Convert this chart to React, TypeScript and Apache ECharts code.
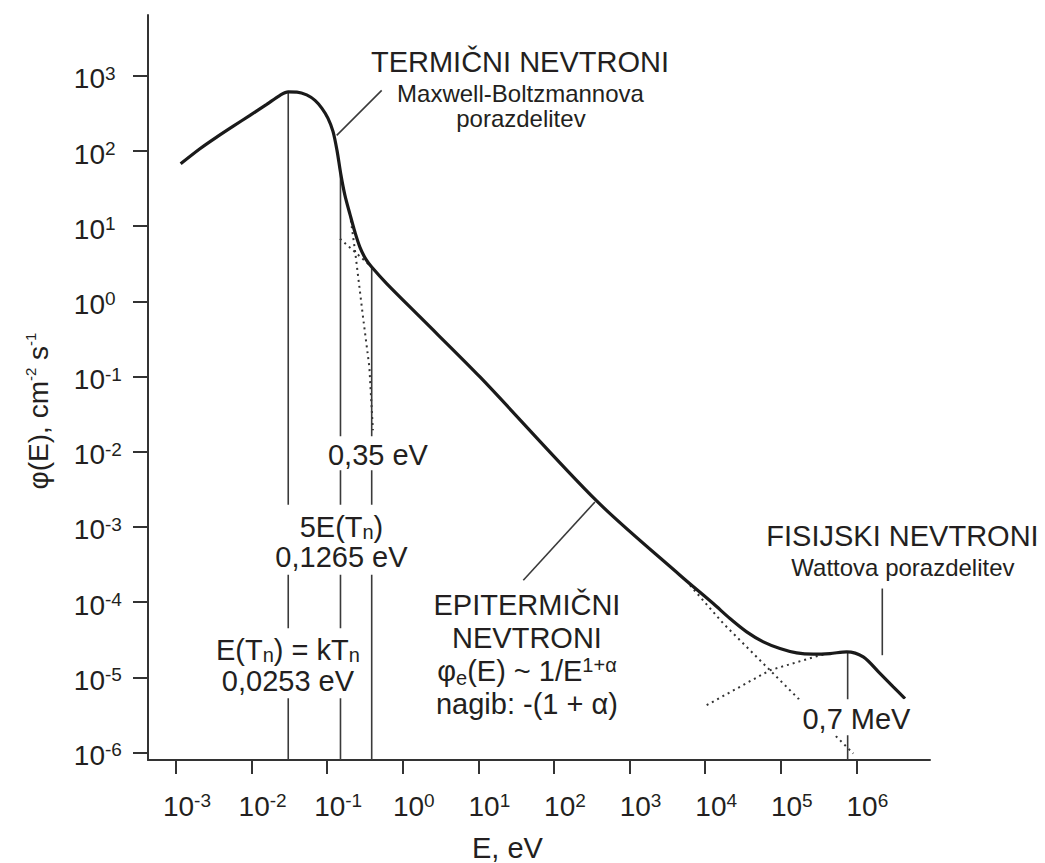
import React, { useEffect, useRef } from "react";
import * as echarts from "echarts";

const FONT = "'Liberation Sans', Arial, Helvetica, sans-serif";
const INK = "#231f20";

// ---- axes (powers of ten) ----
const xTickExponents = [-3, -2, -1, 0, 1, 2, 3, 4, 5, 6];
const yTickExponents = [-6, -5, -4, -3, -2, -1, 0, 1, 2, 3];
const xRangeExp = [-3.37, 6.974];
const yRangeExp = [-6.1, 3.81];

// ---- main neutron spectrum  φ(E) ----
const spectrumE = [0.001153, 0.002075, 0.003451, 0.005728, 0.009528, 0.01585, 0.02377, 0.03055, 0.0399, 0.05358, 0.06902, 0.08531, 0.1026, 0.1194, 0.1349, 0.1524, 0.1718, 0.2004, 0.2333, 0.2716, 0.3258, 0.3882, 0.6124, 1.69, 10.5, 367.3, 4645, 12790, 21280, 35400, 58750, 97500, 162200, 269200, 447700, 744700, 1233000, 2051000, 3076000, 4395000];
const spectrumPhi = [67.9, 107.6, 153.5, 214.8, 298.5, 417.8, 550.8, 612.4, 609.5, 558.5, 472.1, 369.8, 272.3, 182.8, 102.1, 47.5, 25.8, 14.39, 8.3, 5.24, 3.62, 2.864, 1.726, 0.6209, 0.0989, 0.002218, 0.000228, 0.0000957, 0.0000605, 0.0000402, 0.0000296, 0.00002415, 0.0000211, 0.0000203, 0.0000207, 0.0000218, 0.00001866, 0.00001125, 0.00000745, 0.00000522];

// ---- dotted component curves ----
const maxwellTailE = [0.2004, 0.2333, 0.2979, 0.3614, 0.4027];
const maxwellTailPhi = [14.39, 4.79, 0.621, 0.1343, 0.01932];
const epiUpE = [0.1476, 0.368];
const epiUpPhi = [6.84, 3.02];
const epiDownE = [6295, 17380, 71940, 179500, 909900];
const epiDownPhi = [0.0001679, 0.0000519, 0.00001242, 0.00000495, 0.00000097];
const wattRiseE = [10470, 71940, 330400, 400000];
const wattRisePhi = [0.00000426, 0.00001242, 0.00001963, 0.0000205];

// ---- vertical marker lines (energy, top of line) ----
const markerE = [0.03055, 0.15, 0.3882, 767000];
const markerTopPhi = [612.4, 52.6, 2.864, 0.0000217];

// ---- leader lines ----
const thermalLeaderE = [0.526, 0.1337];
const thermalLeaderPhi = [641, 161.8];
const epiLeaderE = [39.3, 348.3];
const epiLeaderPhi = [0.0001954, 0.002148];
const fissionLeaderE = [2203000, 2203000];
const fissionLeaderPhi = [0.0001517, 0.00001968];

// ---- annotation texts ----
const annotationTexts = [
  "{h|TERMIČNI NEVTRONI}",
  "{s|Maxwell-Boltzmannova}",
  "{s|porazdelitev}",
  "{m|0,35 eV}",
  "{m|5E(T}{sub|n}{m|)}\n{m|0,1265 eV}",
  "{m|E(T}{sub|n}{m|) = kT}{sub|n}\n{m|0,0253 eV}",
  "{m|EPITERMIČNI}\n{m|NEVTRONI}\n{m|φ}{sub|e}{m|(E) ~ 1/E}{sup|1+α}\n{m|nagib: -(1 + α)}",
  "{h|FISIJSKI NEVTRONI}",
  "{s|Wattova porazdelitev}",
  "{m|0,7 MeV}",
];
// layout of annotations: anchor (log10 E, log10 φ), line height, padding, white box
const annotationLayout = [
  { x: 1.55, y: 3.18, lh: 32, pad: [0, 0, 0, 0], bg: false },
  { x: 1.557, y: 2.761, lh: 26, pad: [0, 0, 0, 0], bg: false },
  { x: 1.563, y: 2.435, lh: 26, pad: [0, 0, 0, 0], bg: false },
  { x: -0.328, y: -2.02, lh: 29, pad: [4, 4, 1, 4], bg: true },
  { x: -0.811, y: -3.17, lh: 30, pad: [7, 4, 3, 4], bg: true },
  { x: -1.519, y: -4.813, lh: 31, pad: [6, 4, 2, 4], bg: true },
  { x: 1.643, y: -4.699, lh: 33, pad: [0, 0, 0, 0], bg: false },
  { x: 6.61, y: -3.124, lh: 32, pad: [0, 0, 0, 0], bg: false },
  { x: 6.616, y: -3.543, lh: 26, pad: [0, 0, 0, 0], bg: false },
  { x: 6.001, y: -5.53, lh: 29, pad: [5, 4, 2, 4], bg: true },
];

const lg = (v: number) => Math.log10(v);
const toPts = (es: number[], ps: number[]) => es.map((e, i) => [lg(e), lg(ps[i])]);

function makeRich(lh: number) {
  return {
    h: { fontFamily: FONT, fontSize: 29, lineHeight: lh, color: INK },
    m: { fontFamily: FONT, fontSize: 29, lineHeight: lh, color: INK },
    s: { fontFamily: FONT, fontSize: 24, lineHeight: lh, color: INK },
    sub: { fontFamily: FONT, fontSize: 20, lineHeight: lh - 10, verticalAlign: "bottom", color: INK },
    sup: { fontFamily: FONT, fontSize: 20, lineHeight: lh - 6, verticalAlign: "top", color: INK },
  };
}

const tickRichBase = {
  sp: { fontFamily: FONT, fontSize: 19, width: 22, align: "left", lineHeight: 30 },
  a: { fontFamily: FONT, fontSize: 28, lineHeight: 30, align: "left", color: INK },
  b: { fontFamily: FONT, fontSize: 19, lineHeight: 18, verticalAlign: "top", align: "left", color: INK },
};

export default function App() {
  const ref = useRef<HTMLDivElement>(null);

  useEffect(() => {
    if (!ref.current) return;
    const chart = echarts.init(ref.current, null, { renderer: "svg" });

    const lineS = (name: string, data: number[][], style: any, z = 2) => ({
      type: "line",
      name,
      data,
      symbol: "none",
      showSymbol: false,
      silent: true,
      clip: false,
      z,
      lineStyle: style,
    });

    const dotted = { color: "#333", width: 2, type: [2, 4] };
    const thin = { color: "#3a3a3a", width: 1.6 };

    const markerSeries = markerE.map((e, i) =>
      lineS("marker" + i, [
        [lg(e), lg(markerTopPhi[i])],
        [lg(e), yRangeExp[0]],
      ], thin)
    );

    const option: any = {
      animation: false,
      backgroundColor: "#ffffff",
      textStyle: { fontFamily: FONT, color: INK },
      grid: { left: 148, right: 115, top: 15, bottom: 103, containLabel: false, outerBoundsMode: "none" },
      xAxis: {
        type: "value",
        min: xRangeExp[0],
        max: xRangeExp[1],
        splitLine: { show: false },
        axisLine: { onZero: false, lineStyle: { color: "#333", width: 2 } },
        axisTick: { show: true, customValues: xTickExponents, length: 14, lineStyle: { color: "#333", width: 2 } },
        axisLabel: {
          customValues: xTickExponents,
          margin: 31,
          align: "center",
          formatter: (v: number) => `{sp| }{a|10}{b|${v}}`,
          rich: tickRichBase,
        },
      },
      yAxis: {
        type: "value",
        min: yRangeExp[0],
        max: yRangeExp[1],
        splitLine: { show: false },
        axisLine: { onZero: false, lineStyle: { color: "#333", width: 2 } },
        axisTick: { show: true, customValues: yTickExponents, length: 15, lineStyle: { color: "#333", width: 2 } },
        axisLabel: {
          customValues: yTickExponents,
          margin: 17,
          align: "right",
          padding: [6, 0, 0, 0],
          formatter: (v: number) => `{a|10}{b|${v}}`,
          rich: { a: tickRichBase.a, b: { ...tickRichBase.b, width: 26 } },
        },
      },
      graphic: [
        {
          type: "text",
          x: 507.5,
          y: 848,
          z: 100,
          style: {
            text: "E, eV",
            fontFamily: FONT,
            fontSize: 29,
            fill: INK,
            align: "center",
            textAlign: "center",
            verticalAlign: "middle",
            textVerticalAlign: "middle",
          },
        },
        {
          type: "text",
          x: 38,
          y: 411,
          rotation: Math.PI / 2,
          z: 100,
          style: {
            text: "{m|φ(E), cm}{p|-2}{m| s}{p|-1}",
            fill: INK,
            align: "center",
            textAlign: "center",
            verticalAlign: "middle",
            textVerticalAlign: "middle",
            rich: {
              m: { fontFamily: FONT, fontSize: 28, lineHeight: 30, fill: INK, color: INK },
              p: { fontFamily: FONT, fontSize: 15, lineHeight: 16, verticalAlign: "top", fill: INK, color: INK },
            },
          },
        },
      ],
      series: [
        lineS("maxwellTail", toPts(maxwellTailE, maxwellTailPhi), dotted),
        lineS("epiUp", toPts(epiUpE, epiUpPhi), dotted),
        lineS("epiDown", toPts(epiDownE, epiDownPhi), dotted),
        lineS("wattRise", toPts(wattRiseE, wattRisePhi), dotted),
        ...markerSeries,
        lineS("thermalLeader", toPts(thermalLeaderE, thermalLeaderPhi), thin),
        lineS("epiLeader", toPts(epiLeaderE, epiLeaderPhi), thin),
        lineS("fissionLeader", toPts(fissionLeaderE, fissionLeaderPhi), thin),
        {
          ...lineS("spectrum", toPts(spectrumE, spectrumPhi), { color: "#1a1a1a", width: 3.2 }, 3),
          smooth: 0.3,
        },
        {
          type: "scatter",
          name: "annotations",
          silent: true,
          clip: false,
          z: 6,
          symbol: "circle",
          symbolSize: 0,
          data: annotationTexts.map((t, i) => {
            const a = annotationLayout[i];
            return {
              value: [a.x, a.y],
              label: {
                show: true,
                position: "inside",
                align: "center",
                verticalAlign: "middle",
                opacity: 1,
                formatter: () => t,
                rich: makeRich(a.lh),
                padding: a.pad,
                backgroundColor: a.bg ? "#ffffff" : "transparent",
              },
            };
          }),
        },
      ],
    };

    chart.setOption(option);
    return () => chart.dispose();
  }, []);

  return (
    <div
      ref={ref}
      style={{ position: "fixed", left: 0, top: 0, width: 1045, height: 863, background: "#fff" }}
    />
  );
}
